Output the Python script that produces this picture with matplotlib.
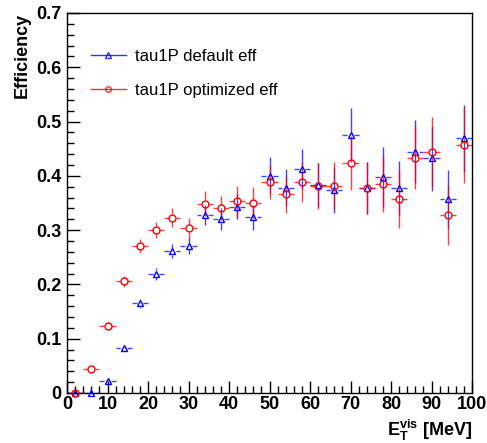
import numpy as np
import matplotlib.pyplot as plt
from matplotlib.lines import Line2D
from matplotlib.ticker import MultipleLocator

plt.rcParams['font.family'] = ['Liberation Sans', 'DejaVu Sans']
plt.rcParams['mathtext.fontset'] = 'custom'
plt.rcParams['mathtext.rm'] = 'Liberation Sans:bold'
plt.rcParams['mathtext.bf'] = 'Liberation Sans:bold'

# bin centres (4 MeV bins)
et = np.arange(2, 100, 4)

eff_default = [0.0, 0.0, 0.022, 0.083, 0.165, 0.220, 0.261, 0.271, 0.328, 0.320,
               0.343, 0.324, 0.400, 0.378, 0.413, 0.383, 0.374, 0.475, 0.378, 0.398,
               0.377, 0.444, 0.432, 0.357, 0.469]
err_default = [0.0, 0.0, 0.004, 0.006, 0.009, 0.011, 0.013, 0.015, 0.018, 0.020,
               0.023, 0.023, 0.034, 0.034, 0.037, 0.040, 0.043, 0.050, 0.048, 0.055,
               0.050, 0.058, 0.060, 0.054, 0.062]

eff_optim = [0.0, 0.044, 0.123, 0.206, 0.271, 0.300, 0.323, 0.303, 0.349, 0.341,
             0.353, 0.350, 0.389, 0.366, 0.389, 0.381, 0.382, 0.424, 0.378, 0.385,
             0.357, 0.433, 0.444, 0.328, 0.457]
err_optim = [0.0, 0.004, 0.007, 0.010, 0.0135, 0.015, 0.017, 0.020, 0.023, 0.022,
             0.028, 0.029, 0.031, 0.034, 0.037, 0.042, 0.043, 0.050, 0.048, 0.052,
             0.054, 0.058, 0.065, 0.056, 0.070]

labels = ['tau1P default eff', 'tau1P optimized eff']

fig = plt.figure(figsize=(4.87, 4.43), dpi=100)
ax = fig.add_axes([0.1376, 0.1129, 0.8316, 0.8578])


def draw(ax, x, y, e, color, marker):
    x = np.asarray(x, float)
    y = np.asarray(y, float)
    e = np.asarray(e, float)
    gx, gy = 0.8, 0.006
    lw, al = 1.0, 0.75
    ax.hlines(y, x - 2, x - gx, color=color, lw=lw, alpha=al)
    ax.hlines(y, x + gx, x + 2, color=color, lw=lw, alpha=al)
    m = e > gy
    ax.vlines(x[m], y[m] + gy, y[m] + e[m], color=color, lw=lw, alpha=al)
    ax.vlines(x[m], y[m] - e[m], y[m] - gy, color=color, lw=lw, alpha=al)
    ax.plot(x, y, ls='none', marker=marker, mfc='none', mec=color, ms=5, mew=1.0,
            clip_on=False, zorder=3)


draw(ax, et, eff_default, err_default, 'blue', '^')
draw(ax, et, eff_optim, err_optim, 'red', 'o')

ax.set_xlim(0, 100)
ax.set_ylim(0, 0.7)
ax.xaxis.set_major_locator(MultipleLocator(10))
ax.xaxis.set_minor_locator(MultipleLocator(2))
ax.yaxis.set_major_locator(MultipleLocator(0.1))
ax.yaxis.set_minor_locator(MultipleLocator(0.02))
ax.yaxis.set_major_formatter(plt.FuncFormatter(lambda v, p: '0' if abs(v) < 1e-9 else '%.1f' % v))
ax.tick_params(which='both', direction='in', top=False, right=False, width=1)
ax.tick_params(which='major', length=9, labelsize=13)
ax.tick_params(axis='y', which='major', pad=4)
ax.tick_params(axis='x', which='major', pad=2)
ax.tick_params(which='minor', length=5)
for t in ax.get_xticklabels() + ax.get_yticklabels():
    t.set_fontweight('bold')
for s in ax.spines.values():
    s.set_linewidth(1.0)

ax.set_ylabel('Efficiency', fontsize=13, fontweight='bold', loc='top', labelpad=4)
ax.set_xlabel(r'$\mathbf{E}_{\mathbf{T}}^{\mathbf{vis}}$ [MeV]', fontsize=13,
              fontweight='bold', loc='right', labelpad=4)

handles = [Line2D([], [], color='blue', marker='^', mfc='none', ms=4, lw=1, alpha=0.8),
           Line2D([], [], color='red', marker='o', mfc='none', ms=4, lw=1, alpha=0.8)]
ax.legend(handles, labels, loc='upper left', bbox_to_anchor=(0.022, 0.946), frameon=False,
          fontsize=12, handlelength=2.1, labelspacing=1.15, handletextpad=0.55)

plt.savefig('out.png', dpi=100)
